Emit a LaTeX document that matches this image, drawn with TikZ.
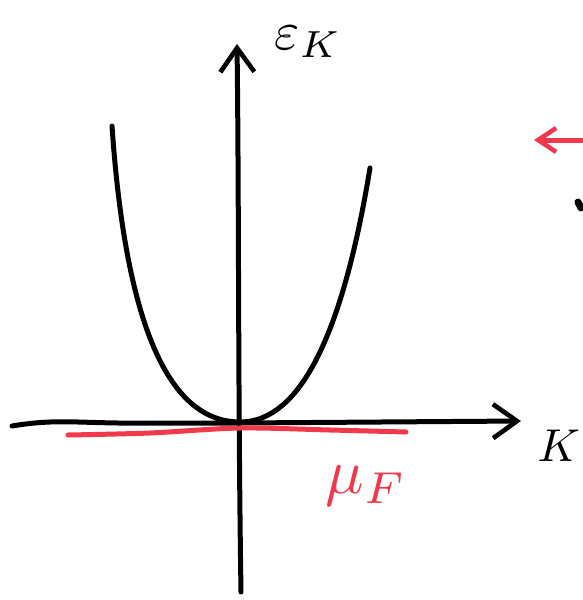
\documentclass[tikz,border=0pt]{standalone}
\usepackage{tikz}
\usetikzlibrary{arrows.meta}
\definecolor{penred}{RGB}{240,58,76}
\definecolor{penblack}{RGB}{0,0,0}

\begin{document}
\begin{tikzpicture}[x=1pt,y=-1pt,
    pen/.style={line width=5pt,line cap=round,line join=round,penblack},
    redpen/.style={pen,penred},
    axis/.style={pen,-{Straight Barb[length=24pt,width=34pt,line width=4.6pt]}},
    lbl/.style={inner sep=0pt,scale=#1}]
  \useasboundingbox (0,0) rectangle (583,600);
  % axes
  \coordinate (ybot) at (241,592);
  \coordinate (ytop) at (237,44);
  \coordinate (xleft) at (12,426);
  \coordinate (xright) at (521,421);
  \draw[axis] (ybot) .. controls (238,400) and (239,200) .. (ytop);
  \draw[axis] (xleft) .. controls (60,418) and (80,424) .. (150,423)
    -- (240,423) -- (xright);
  % dispersion
  \coordinate (bot) at (240,422);
  \draw[pen] (112,126) .. controls (124,300) and (160,422) .. (bot)
    .. controls (305,422) and (345,320) .. (370,168);
  % chemical potential
  \draw[redpen] plot[smooth,tension=0.5] coordinates {(68,435) (150,433) (240,428) (330,430) (406,432)};
  % labels
  \node[lbl=5.4] (ek) at (308,42) {$\varepsilon_K$};
  \node[lbl=4.6,anchor=east] (kl) at (581,446) {$K$};
  \node[lbl=6.4,text=penred] (mu) at (366,486) {$\mu_F$};
  % bits at the right edge
  \coordinate (rarr) at (590,140);
  \coordinate (rtip) at (534,140);
  \draw[redpen,-{Straight Barb[length=18pt,width=24pt,line width=4.6pt]}] (rarr) -- (rtip);
  \coordinate (dot) at (578,202);
  \draw[pen,line width=7pt] (dot) -- ++(3,6);
\end{tikzpicture}
\end{document}
